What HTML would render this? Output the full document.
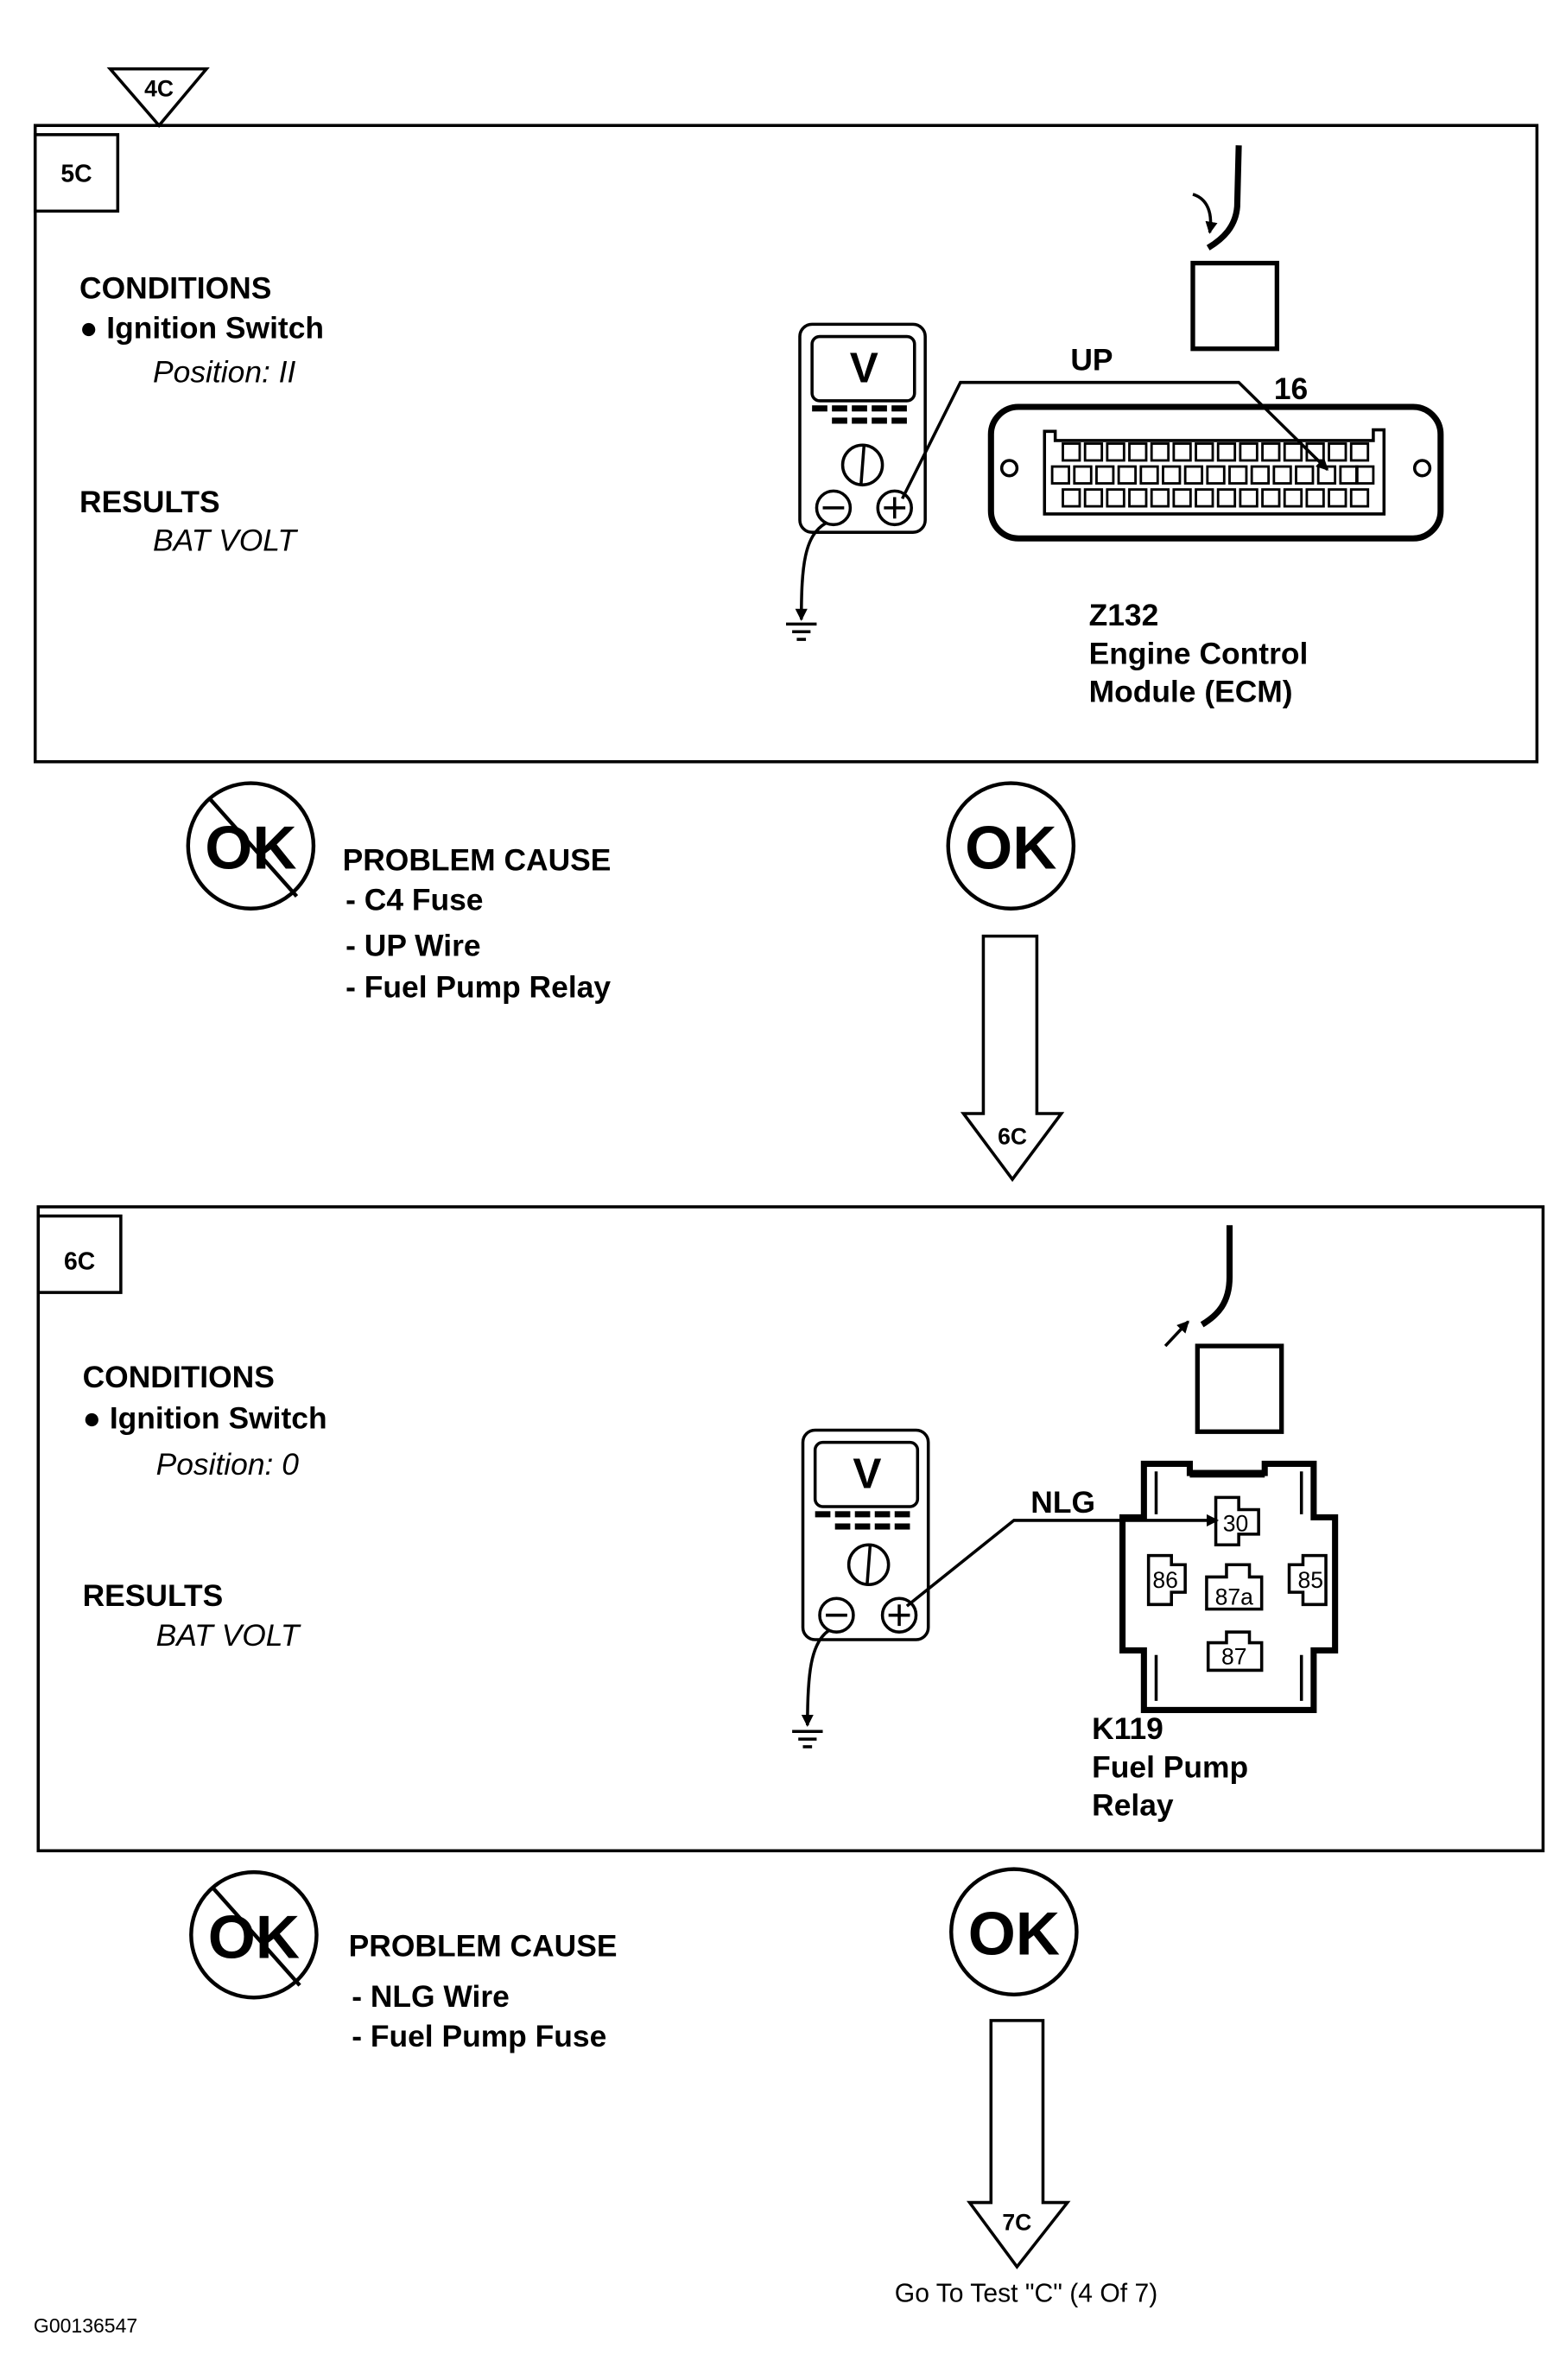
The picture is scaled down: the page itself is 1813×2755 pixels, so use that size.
<!DOCTYPE html>
<html><head><meta charset="utf-8"><style>
html,body{margin:0;padding:0;background:#fff;}
svg{display:block;}
text{font-family:"Liberation Sans",sans-serif;fill:#000;}
.b{font-weight:bold;font-size:20px;}
.i{font-style:italic;font-size:20px;}
</style></head><body>
<svg width="1813" height="2755" viewBox="0 0 1024 1556" xmlns="http://www.w3.org/2000/svg">
<defs>
<marker id="ar" markerWidth="8" markerHeight="8" refX="7" refY="4" orient="auto" markerUnits="userSpaceOnUse"><path d="M0,0 L8,4 L0,8 z" fill="#000"/></marker>
</defs>
<g fill="none" stroke="#000" stroke-width="2">
<!-- 4C triangle -->
<path d="M72,45 L135,45 L104,82 z" fill="#fff"/>
<!-- Box 1 -->
<rect x="23" y="82" width="982" height="416"/>
<rect x="23" y="88" width="54" height="50"/>
<!-- meter 1 -->
<rect x="523" y="212" width="82" height="136" rx="8"/>
<rect x="531" y="220" width="67" height="42" rx="5"/>
<circle cx="564" cy="304" r="13"/><line x1="565" y1="291" x2="563" y2="317"/>
<circle cx="545" cy="332" r="11"/><line x1="538" y1="332" x2="552" y2="332"/>
<circle cx="585" cy="332" r="11"/><line x1="578" y1="332" x2="592" y2="332"/><line x1="585" y1="325" x2="585" y2="339"/>
<path d="M540,342 C526,350 524,370 524,405" marker-end="url(#ar)"/>
<line x1="514" y1="408" x2="534" y2="408"/><line x1="518" y1="413" x2="530" y2="413"/><line x1="521" y1="418" x2="527" y2="418"/>
<path d="M590,326 L628,250 L810,250 L868,307" marker-end="url(#ar)"/>
<!-- J connector 1 -->
<path d="M810,95 L809,135 C808,148 800,156 790,162" stroke-width="4"/>
<path d="M780,127 C790,130 793,140 791,152" marker-end="url(#ar)"/>
<rect x="780" y="172" width="55" height="56" stroke-width="3"/>
<!-- ECM -->
<rect x="648" y="266" width="294" height="86" rx="18" stroke-width="4"/>
<circle cx="660" cy="306" r="5"/><circle cx="930" cy="306" r="5"/>
<path d="M683,282 L690,282 L690,288 L898,288 L898,281 L905,281 L905,336 L683,336 z"/>
</g>
<g fill="none" stroke="#000" stroke-width="1.6">
<!-- ECM pins -->
<g id="r1"><rect x="695" y="290" width="11" height="11"/><rect x="709.5" y="290" width="11" height="11"/><rect x="724" y="290" width="11" height="11"/><rect x="738.5" y="290" width="11" height="11"/><rect x="753" y="290" width="11" height="11"/><rect x="767.5" y="290" width="11" height="11"/><rect x="782" y="290" width="11" height="11"/><rect x="796.5" y="290" width="11" height="11"/><rect x="811" y="290" width="11" height="11"/><rect x="825.5" y="290" width="11" height="11"/><rect x="840" y="290" width="11" height="11"/><rect x="854.5" y="290" width="11" height="11"/><rect x="869" y="290" width="11" height="11"/><rect x="883.5" y="290" width="11" height="11"/></g>
<use href="#r1" transform="translate(-7,15)"/>
<rect x="887" y="305" width="11" height="11"/>
<use href="#r1" transform="translate(0,30)"/>
</g>
<!-- meter dashes 1 -->
<g fill="#000">
<rect x="531" y="265" width="10" height="4"/><rect x="544" y="265" width="10" height="4"/><rect x="557" y="265" width="10" height="4"/><rect x="570" y="265" width="10" height="4"/><rect x="583" y="265" width="10" height="4"/>
<rect x="544" y="273" width="10" height="4"/><rect x="557" y="273" width="10" height="4"/><rect x="570" y="273" width="10" height="4"/><rect x="583" y="273" width="10" height="4"/>
</g>
<text x="104" y="63" class="b" font-size="15" text-anchor="middle" style="font-size:15px">4C</text>
<text x="50" y="119" class="b" text-anchor="middle" style="font-size:16px">5C</text>
<text x="52" y="195" class="b">CONDITIONS</text>
<text x="52" y="221" class="b">● Ignition Switch</text>
<text x="100" y="250" class="i">Position: II</text>
<text x="52" y="335" class="b">RESULTS</text>
<text x="100" y="360" class="i">BAT VOLT</text>
<text x="565" y="250" class="b" text-anchor="middle" style="font-size:28px">V</text>
<text x="700" y="242" class="b">UP</text>
<text x="833" y="261" class="b">16</text>
<text x="712" y="409" class="b">Z132</text>
<text x="712" y="434" class="b">Engine Control</text>
<text x="712" y="459" class="b">Module (ECM)</text>

<!-- results 1 -->
<g fill="none" stroke="#000" stroke-width="2.5">
<circle cx="164" cy="553" r="41"/><line x1="137" y1="522" x2="194" y2="586"/>
<circle cx="661" cy="553" r="41"/>
</g>
<text x="164" y="568" class="b" text-anchor="middle" style="font-size:40px">OK</text>
<text x="661" y="568" class="b" text-anchor="middle" style="font-size:40px">OK</text>
<text x="224" y="569" class="b">PROBLEM CAUSE</text>
<text x="226" y="595" class="b">-  C4  Fuse</text>
<text x="226" y="625" class="b">-  UP  Wire</text>
<text x="226" y="652" class="b">-  Fuel Pump Relay</text>
<path d="M643,612 L678,612 L678,728 L694,728 L662,771 L630,728 L643,728 z" fill="#fff" stroke="#000" stroke-width="2"/>
<text x="662" y="748" class="b" text-anchor="middle" style="font-size:15px">6C</text>

<!-- Box 2 -->
<g fill="none" stroke="#000" stroke-width="2">
<rect x="25" y="789" width="984" height="421"/>
<rect x="25" y="795" width="54" height="50"/>
<rect x="525" y="935" width="82" height="137" rx="8"/>
<rect x="533" y="943" width="67" height="42" rx="5"/>
<circle cx="568" cy="1023" r="13"/><line x1="569" y1="1010" x2="567" y2="1036"/>
<circle cx="547" cy="1056" r="11"/><line x1="540" y1="1056" x2="554" y2="1056"/>
<circle cx="588" cy="1056" r="11"/><line x1="581" y1="1056" x2="595" y2="1056"/><line x1="588" y1="1049" x2="588" y2="1063"/>
<path d="M542,1066 C530,1074 528,1095 528,1128" marker-end="url(#ar)"/>
<line x1="518" y1="1132" x2="538" y2="1132"/><line x1="522" y1="1137" x2="534" y2="1137"/><line x1="525" y1="1142" x2="531" y2="1142"/>
<path d="M593,1050 L663,994 L796,994" marker-end="url(#ar)"/>
<path d="M804,801 L804,835 C804,852 796,860 786,866" stroke-width="4"/>
<line x1="762" y1="880" x2="777" y2="864" marker-end="url(#ar)"/>
<rect x="783" y="880" width="55" height="56" stroke-width="3"/>
<!-- relay -->
<path d="M748,957 L778,957 L778,963 L827,963 L827,957 L859,957 L859,992 L873,992 L873,1079 L859,1079 L859,1118 L748,1118 L748,1079 L734,1079 L734,992 L748,992 z" stroke-width="4"/>
<line x1="756" y1="962" x2="756" y2="990"/><line x1="851" y1="962" x2="851" y2="990"/>
<line x1="756" y1="1082" x2="756" y2="1112"/><line x1="851" y1="1082" x2="851" y2="1112"/>
<path d="M795,979 L810,979 L810,987 L823,987 L823,1003 L810,1003 L810,1010 L795,1010 z"/>
<path d="M751,1017 L766,1017 L766,1023 L775,1023 L775,1041 L766,1041 L766,1049 L751,1049 z"/>
<path d="M867,1017 L852,1017 L852,1023 L843,1023 L843,1041 L852,1041 L852,1049 L867,1049 z"/>
<path d="M802,1023 L817,1023 L817,1031 L825,1031 L825,1052 L789,1052 L789,1031 L802,1031 z"/>
<path d="M802,1067 L817,1067 L817,1074 L825,1074 L825,1092 L790,1092 L790,1074 L802,1074 z"/>
</g>
<rect x="778" y="961" width="49" height="5" fill="#000"/>
<g fill="#000">
<rect x="533" y="988" width="10" height="4"/><rect x="546" y="988" width="10" height="4"/><rect x="559" y="988" width="10" height="4"/><rect x="572" y="988" width="10" height="4"/><rect x="585" y="988" width="10" height="4"/>
<rect x="546" y="996" width="10" height="4"/><rect x="559" y="996" width="10" height="4"/><rect x="572" y="996" width="10" height="4"/><rect x="585" y="996" width="10" height="4"/>
</g>
<text x="808" y="1001" font-size="14" text-anchor="middle" style="font-size:15px">30</text>
<text x="762" y="1038" text-anchor="middle" style="font-size:15px">86</text>
<text x="857" y="1038" text-anchor="middle" style="font-size:15px">85</text>
<text x="807" y="1049" text-anchor="middle" style="font-size:15px">87a</text>
<text x="807" y="1088" text-anchor="middle" style="font-size:15px">87</text>
<text x="52" y="830" class="b" text-anchor="middle" style="font-size:16px">6C</text>
<text x="54" y="907" class="b">CONDITIONS</text>
<text x="54" y="934" class="b">● Ignition Switch</text>
<text x="102" y="964" class="i">Position: 0</text>
<text x="54" y="1050" class="b">RESULTS</text>
<text x="102" y="1076" class="i">BAT VOLT</text>
<text x="567" y="973" class="b" text-anchor="middle" style="font-size:28px">V</text>
<text x="674" y="989" class="b">NLG</text>
<text x="714" y="1137" class="b">K119</text>
<text x="714" y="1162" class="b">Fuel Pump</text>
<text x="714" y="1187" class="b">Relay</text>

<g fill="none" stroke="#000" stroke-width="2.5">
<circle cx="166" cy="1265" r="41"/><line x1="139" y1="1234" x2="196" y2="1298"/>
<circle cx="663" cy="1263" r="41"/>
</g>
<text x="166" y="1280" class="b" text-anchor="middle" style="font-size:40px">OK</text>
<text x="663" y="1278" class="b" text-anchor="middle" style="font-size:40px">OK</text>
<text x="228" y="1279" class="b">PROBLEM CAUSE</text>
<text x="230" y="1312" class="b">-  NLG  Wire</text>
<text x="230" y="1338" class="b">-  Fuel Pump Fuse</text>
<path d="M648,1321 L682,1321 L682,1440 L698,1440 L665,1482 L634,1440 L648,1440 z" fill="#fff" stroke="#000" stroke-width="2"/>
<text x="665" y="1458" class="b" text-anchor="middle" style="font-size:15px">7C</text>
<text x="671" y="1505" text-anchor="middle" style="font-size:17px">Go To Test "C" (4 Of 7)</text>
<text x="22" y="1525" style="font-size:13px">G00136547</text>
</svg>
</body></html>
